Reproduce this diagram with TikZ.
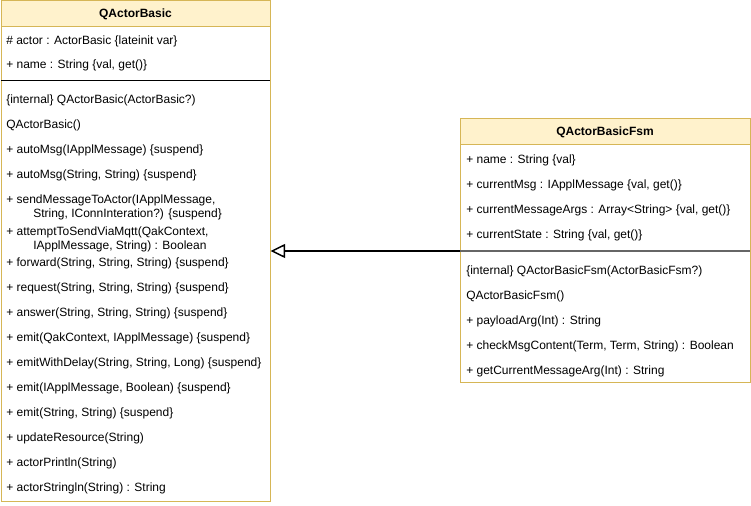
\documentclass[tikz,border=0pt]{standalone}
\usepackage{fontspec}
\setmainfont{Liberation Sans}
\usetikzlibrary{positioning,arrows.meta,fit}
\definecolor{umlfill}{HTML}{FFF2CC}
\definecolor{umledge}{HTML}{D6B656}
\definecolor{umlsep}{HTML}{666666}

\tikzset{
  classbox/.style={draw=umledge, fill=white, inner sep=0pt, line width=0.75pt},
  classhead/.style={draw=umledge, fill=umlfill, inner sep=0pt, line width=0.75pt},
  member/.style={anchor=west, inner sep=0pt, text height=6.4pt, text depth=0pt},
  inherits/.style={-{Triangle[open, length=11pt, width=10.5pt, line width=1.1pt]}, line width=1.5pt}
}

\begin{document}
\begin{tikzpicture}[x=0.75pt, y=-0.75pt, font=\fontsize{9}{11}\selectfont]
\useasboundingbox (0,0) rectangle (751,506);

% class QActorBasic
\node[classbox, fit={(1,1) (270,502)}] (basic) {};
\node[classhead, fit={(1,1) (270,27)}] (basicHead) {};
\node[font=\fontsize{9}{11}\selectfont\bfseries] at (basicHead) {QActorBasic};
\node[member] at (6,40) {\# actor : ActorBasic \{lateinit var\}};
\node[member] at (6,64) {+ name : String \{val, get()\}};
\draw[line width=0.75pt] (1,81) -- (270,81);
\node[member] at (6,99) {\{internal\} QActorBasic(ActorBasic?)};
\node[member] at (6,124) {QActorBasic()};
\node[member] at (6,149) {+ autoMsg(IApplMessage) \{suspend\}};
\node[member] at (6,174) {+ autoMsg(String, String) \{suspend\}};
\node[member] at (6,199) {+ sendMessageToActor(IApplMessage,};
\node[member] at (33,213) {String, IConnInteration?) \{suspend\}};
\node[member] at (6,231) {+ attemptToSendViaMqtt(QakContext,};
\node[member] at (33,245) {IApplMessage, String) : Boolean};
\node[member] at (6,262) {+ forward(String, String, String) \{suspend\}};
\node[member] at (6,287) {+ request(String, String, String) \{suspend\}};
\node[member] at (6,312) {+ answer(String, String, String) \{suspend\}};
\node[member] at (6,337) {+ emit(QakContext, IApplMessage) \{suspend\}};
\node[member] at (6,362) {+ emitWithDelay(String, String, Long) \{suspend\}};
\node[member] at (6,387) {+ emit(IApplMessage, Boolean) \{suspend\}};
\node[member] at (6,412) {+ emit(String, String) \{suspend\}};
\node[member] at (6,437) {+ updateResource(String)};
\node[member] at (6,462) {+ actorPrintln(String)};
\node[member] at (6,487) {+ actorStringln(String) : String};

% class QActorBasicFsm
\node[classbox, fit={(460,119) (750,383)}] (fsm) {};
\node[classhead, fit={(460,119) (750,145)}] (fsmHead) {};
\node[font=\fontsize{9}{11}\selectfont\bfseries] at (fsmHead) {QActorBasicFsm};
\node[member] at (466,159) {+ name : String \{val\}};
\node[member] at (466,184) {+ currentMsg : IApplMessage \{val, get()\}};
\node[member] at (466,209) {+ currentMessageArgs : Array<String> \{val, get()\}};
\node[member] at (466,234) {+ currentState : String \{val, get()\}};
\draw[umlsep, line width=1.5pt] (460,251) -- (750,251);
\node[member] at (466,270) {\{internal\} QActorBasicFsm(ActorBasicFsm?)};
\node[member] at (466,295) {QActorBasicFsm()};
\node[member] at (466,320) {+ payloadArg(Int) : String};
\node[member] at (466,345) {+ checkMsgContent(Term, Term, String) : Boolean};
\node[member] at (466,370) {+ getCurrentMessageArg(Int) : String};

% generalisation
\draw[inherits] (fsm.west) -- (fsm.west -| basic.east);
\end{tikzpicture}
\end{document}
